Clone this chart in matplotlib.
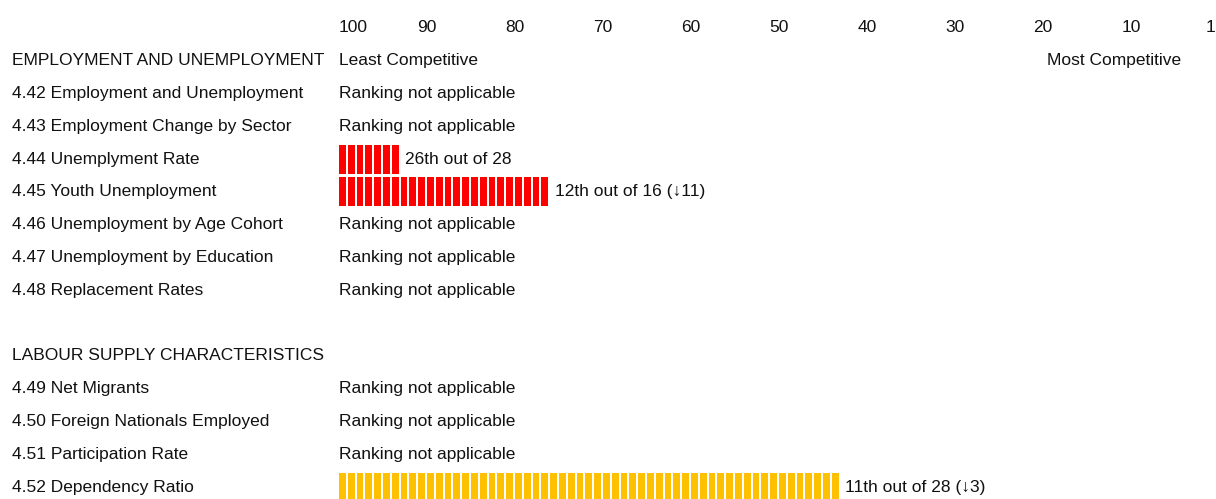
import matplotlib
matplotlib.use("Agg")
import matplotlib.pyplot as plt

# Row labels (top to bottom), None = blank spacer row
row_labels = [
    "EMPLOYMENT AND UNEMPLOYMENT",
    "4.42 Employment and Unemployment",
    "4.43 Employment Change by Sector",
    "4.44 Unemplyment Rate",
    "4.45 Youth Unemployment",
    "4.46 Unemployment by Age Cohort",
    "4.47 Unemployment by Education",
    "4.48 Replacement Rates",
    None,
    "LABOUR SUPPLY CHARACTERISTICS",
    "4.49 Net Migrants",
    "4.50 Foreign Nationals Employed",
    "4.51 Participation Rate",
    "4.52 Dependency Ratio",
]

# bar length in scale units (measured from 100 towards 1), None = no ranking
bar_lengths = [None, None, None, 7, 24, None, None, None, None, None, None, None, None, 57]
rank_texts = [
    "Least Competitive",
    "Ranking not applicable",
    "Ranking not applicable",
    "26th out of 28",
    "12th out of 16 (\u219311)",
    "Ranking not applicable",
    "Ranking not applicable",
    "Ranking not applicable",
    None,
    None,
    "Ranking not applicable",
    "Ranking not applicable",
    "Ranking not applicable",
    "11th out of 28 (\u21933)",
]
bar_colors = [None, None, None, "#FF0000", "#FF0000", None, None, None, None, None, None, None, None, "#FFC000"]

scale_ticks = [100, 90, 80, 70, 60, 50, 40, 30, 20, 10, 1]

FONT = ["Liberation Sans", "DejaVu Sans"]
FS = 12.5

fig = plt.figure(figsize=(12.16, 4.99), dpi=100)
ax = fig.add_axes([0, 0, 1, 1])
ax.set_xlim(138.53, 0.32)
ax.set_ylim(14.36, -0.85)
ax.axis("off")

# scale along the top
for t in scale_ticks:
    ax.text(t, 0, str(t), ha="left" if t == 100 else "center", va="center",
            fontsize=FS, family=FONT, color="#111111")

for i, label in enumerate(row_labels):
    y = i + 1
    if label is not None:
        ax.text(137.2, y, label, ha="left", va="center", fontsize=FS, family=FONT, color="#111111")
    length = bar_lengths[i]
    txt = rank_texts[i]
    if length is not None:
        # draw the bar as a row of small blocks
        n = int(round(length))
        w = length / n
        lefts = [100 - k * w for k in range(n)]
        ax.barh([y] * n, [-(w * 0.78)] * n, left=lefts, height=0.88,
                color=bar_colors[i], edgecolor="none")
        ax.text(100 - length - 0.5, y, txt, ha="left", va="center",
                fontsize=FS, family=FONT, color="#111111")
    elif txt is not None:
        ax.text(100, y, txt, ha="left", va="center", fontsize=FS, family=FONT, color="#111111")

ax.text(4.3, 1, "Most Competitive", ha="right", va="center", fontsize=FS, family=FONT, color="#111111")

fig.savefig("out.png", dpi=100)
